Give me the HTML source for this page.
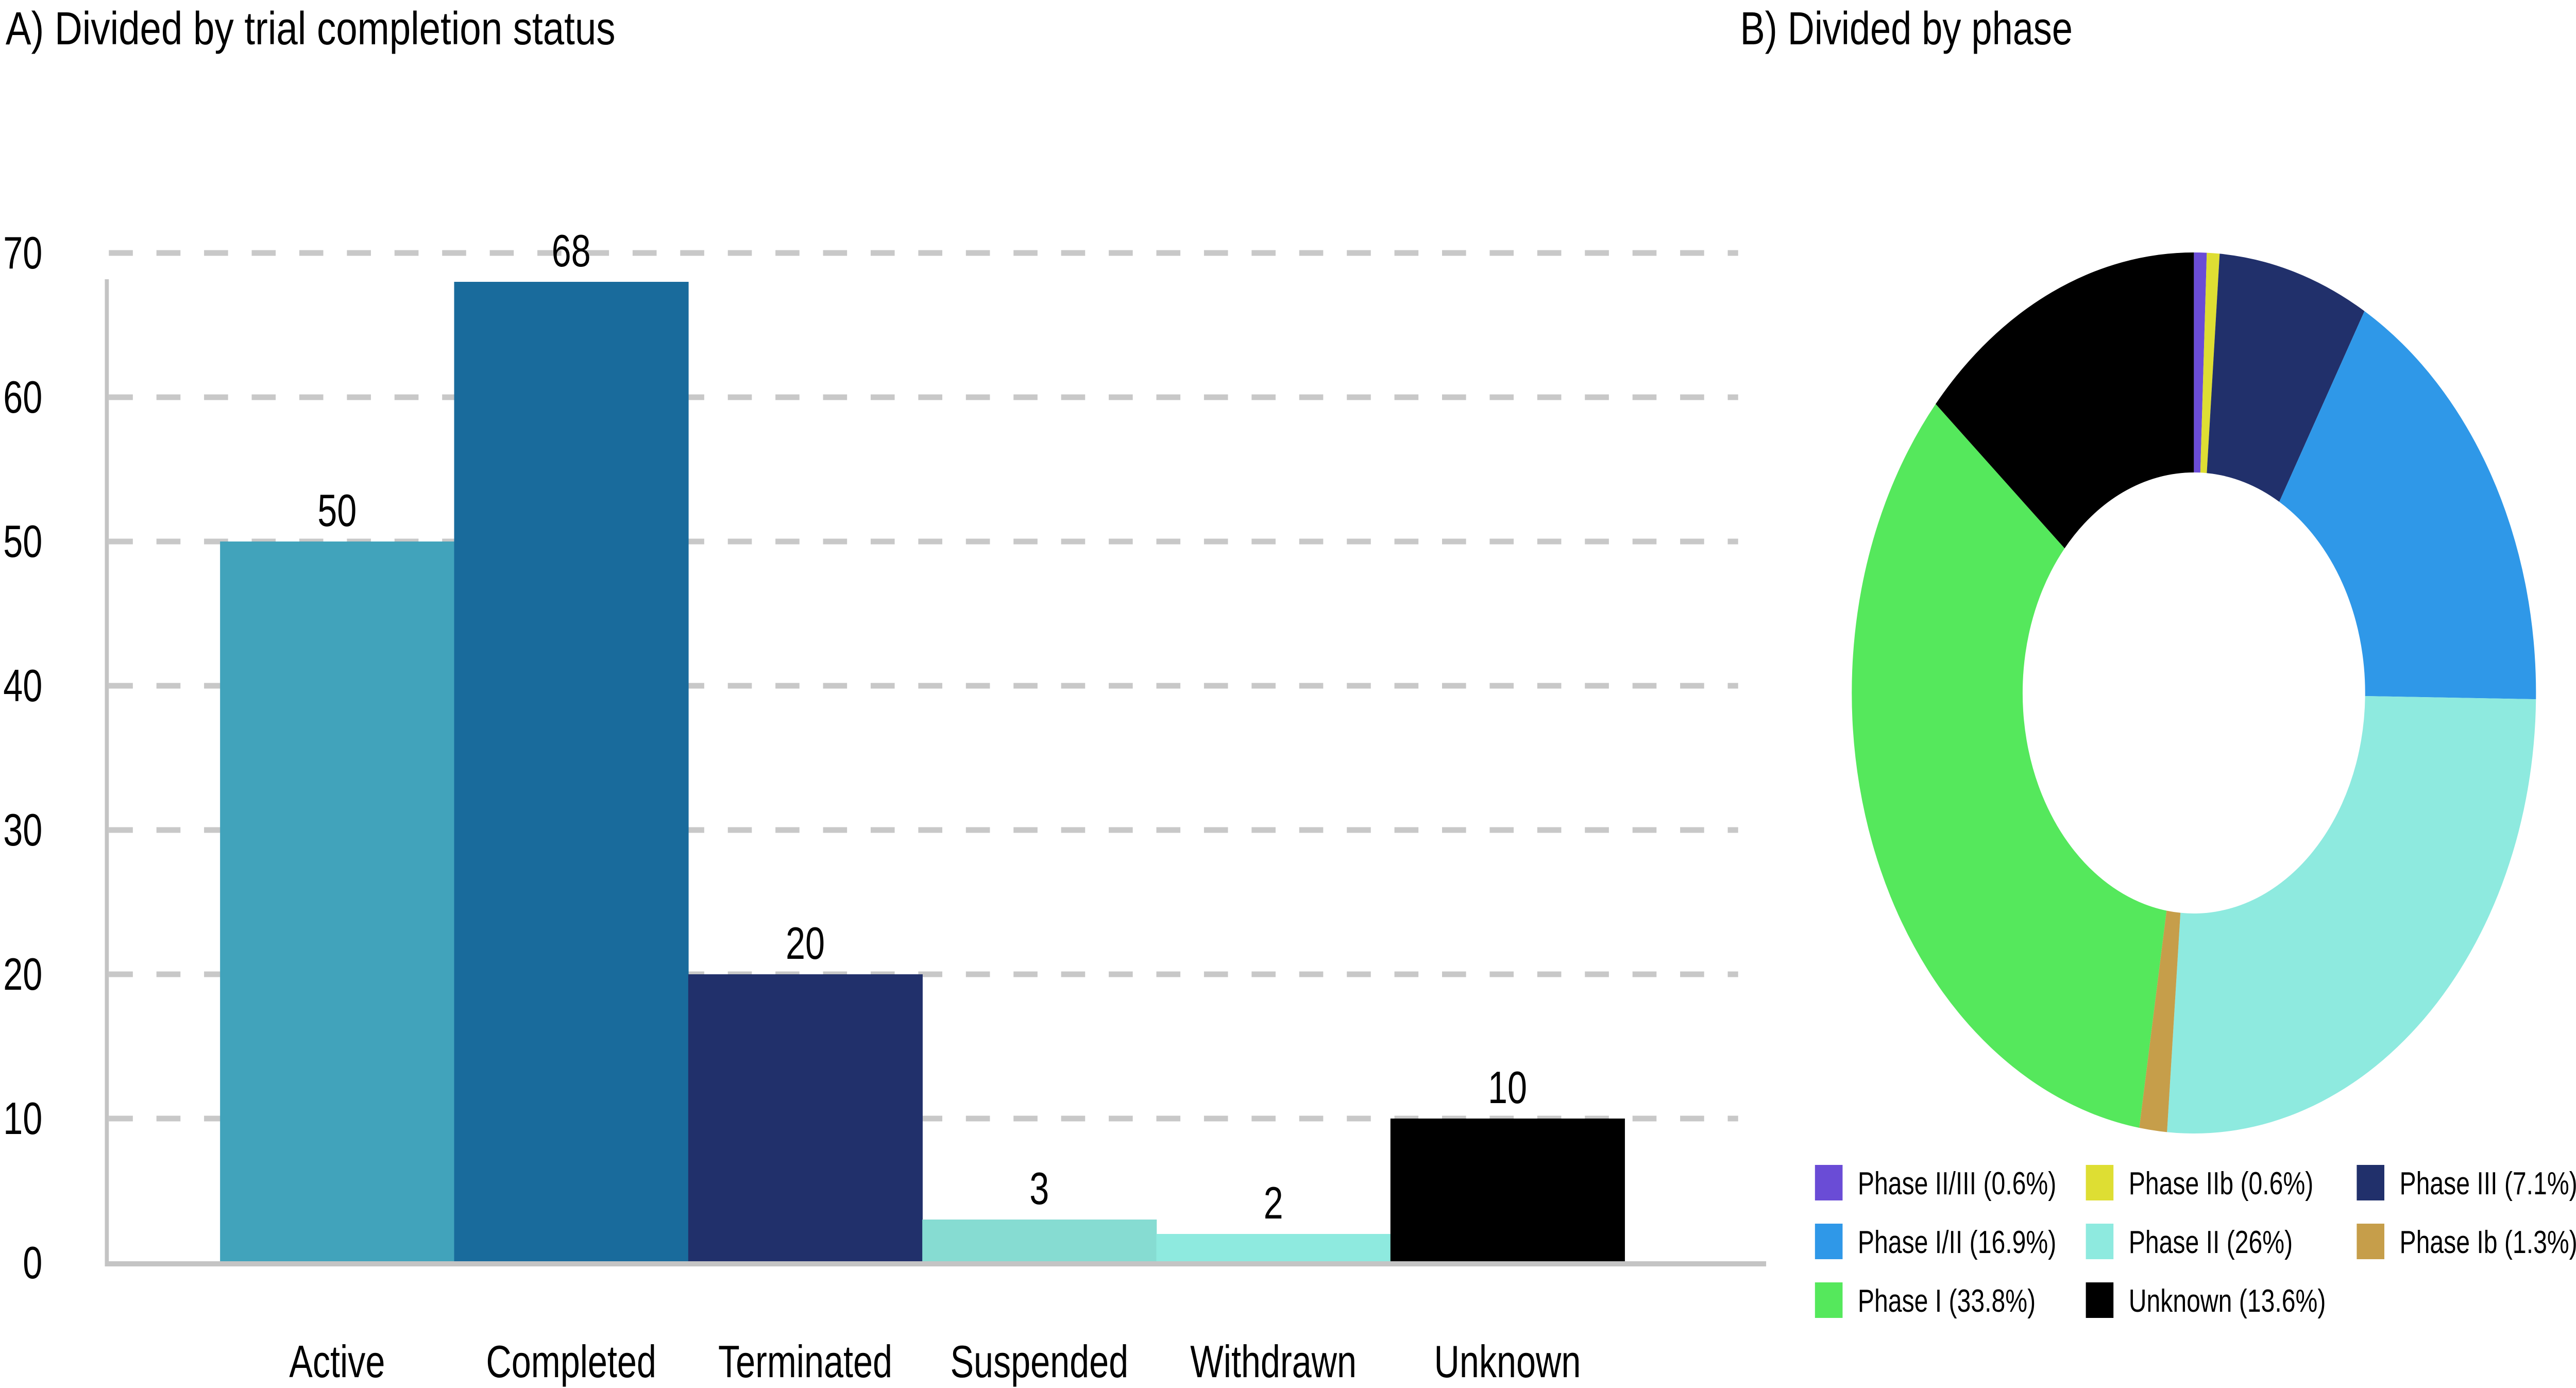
<!DOCTYPE html>
<html><head><meta charset="utf-8"><style>
html,body{margin:0;padding:0;background:#fff;width:100%;height:100%;overflow:hidden;}
svg{display:block;font-family:"Liberation Sans",sans-serif;width:100vw;height:100vh;}
</style></head><body>
<svg id="c" viewBox="0 0 6438 2694" preserveAspectRatio="none" xmlns="http://www.w3.org/2000/svg">
<text x="14" y="86" font-size="90" textLength="1524" lengthAdjust="spacingAndGlyphs">A) Divided by trial completion status</text>
<text x="4349" y="86" font-size="90" textLength="831" lengthAdjust="spacingAndGlyphs">B) Divided by phase</text>
<g id="bars"></g>
<g id="donut"></g>
<g id="legend"></g>
</svg>
<script>
const categories = ["Active","Completed","Terminated","Suspended","Withdrawn","Unknown"];
const counts = [50,68,20,3,2,10];
const barColors = ["#41a3bb","#196b9c","#21306b","#86dcd2","#8eeadf","#000000"];
const yTicks = [0,10,20,30,40,50,60,70];
const phaseLabels = ["Phase II/III (0.6%)","Phase IIb (0.6%)","Phase III (7.1%)","Phase I/II (16.9%)","Phase II (26%)","Phase Ib (1.3%)","Phase I  (33.8%)","Unknown (13.6%)"];
const phaseShares = [0.6,0.6,7.1,16.9,26,1.3,33.8,13.6];
const phaseColors = ["#6a4cd6","#dede33","#21306b","#2f98e8","#8eeadf","#c69e4a","#55e85c","#000000"];

const NS="http://www.w3.org/2000/svg";
function mk(tag,attrs,parent){const e=document.createElementNS(NS,tag);for(const k in attrs)e.setAttribute(k,attrs[k]);parent.appendChild(e);return e;}

const bars=document.getElementById('bars');
const baseY=2451, pxPer=28, x0=550, bw=585;
const y=v=>baseY-v*pxPer;
yTicks.forEach(t=>{
  if(t>0){const g=mk('line',{x1:272,x2:4344,y1:y(t),y2:y(t),stroke:'#c8c8c8','stroke-width':11,'stroke-dasharray':'60 59'},bars);
  
  }
  const tl=mk('text',{x:106,y:y(t)+30,'font-size':88,'text-anchor':'end'},bars);
  tl.textContent=t;
  
  
});
counts.forEach((v,i)=>{
  const bx=x0+i*bw;
  const r=mk('rect',{x:bx,y:y(v),width:bw+1,height:v*pxPer,fill:barColors[i]},bars);
  
  
  const vl=mk('text',{x:bx+bw/2,y:y(v)-30,'font-size':88,'text-anchor':'middle'},bars);
  vl.textContent=v;
  
  
  const cl=mk('text',{x:bx+bw/2,y:2673,'font-size':88,'text-anchor':'middle'},bars);
  cl.textContent=categories[i];
  
  
});
const ya=mk('line',{x1:267,x2:267,y1:542,y2:2456,stroke:'#c4c4c4','stroke-width':10},bars);


const xa=mk('line',{x1:262,x2:4414,y1:2453,y2:2453,stroke:'#c4c4c4','stroke-width':10},bars);



const donut=document.getElementById('donut');
const cx=5483, cy=1345, R=855, r0=428;
const total=phaseShares.reduce((a,b)=>a+b,0);
let acc=0;
function pt(rad,a){return [cx+rad*Math.sin(a), cy-rad*Math.cos(a)];}
phaseShares.forEach((s,i)=>{
  const a1=acc/total*2*Math.PI; acc+=s; const a2=acc/total*2*Math.PI;
  const lg=(a2-a1)>Math.PI?1:0;
  const p1=pt(R,a1),p2=pt(R,a2),p3=pt(r0,a2),p4=pt(r0,a1);
  const d=`M${p1[0]},${p1[1]} A${R},${R} 0 ${lg} 1 ${p2[0]},${p2[1]} L${p3[0]},${p3[1]} A${r0},${r0} 0 ${lg} 0 ${p4[0]},${p4[1]} Z`;
  const p=mk('path',{d:d,fill:phaseColors[i]},donut);
  
  
});

const legend=document.getElementById('legend');
const colX=[4536,5213,5890], rowY=[2261,2375,2489];
phaseLabels.forEach((lab,i)=>{
  const c=i%3, rw=Math.floor(i/3);
  const sw=mk('rect',{x:colX[c],y:rowY[rw],width:69,height:69,fill:phaseColors[i]},legend);
  
  
  const t=mk('text',{x:colX[c]+107,y:rowY[rw]+57,'font-size':62},legend);
  t.textContent=lab;
  
  
});
</script>
</body></html>
